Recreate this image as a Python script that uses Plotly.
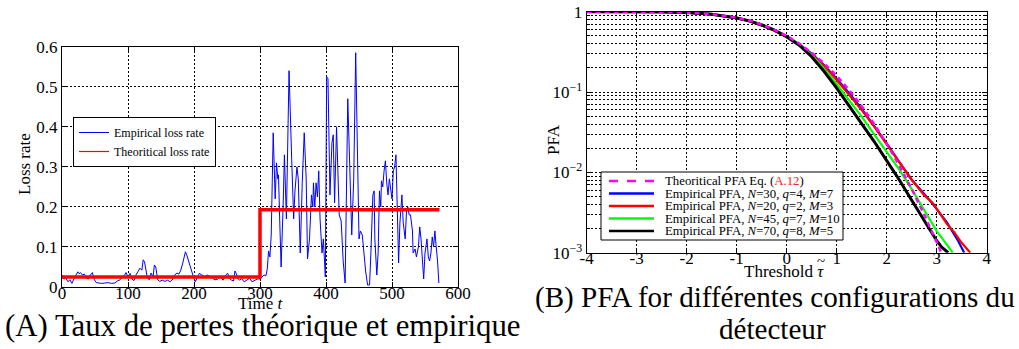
import plotly.graph_objects as go

W, H = 1019, 349
SERIF = "Liberation Serif, DejaVu Serif, Times New Roman, serif"

# ── Left panel: loss rate vs time ──────────────────────────────────────
t_loss = [
    0, 3, 6, 9, 12, 15, 18, 21, 24, 26,
    28, 31, 34, 37, 40, 43, 46, 49, 52, 56,
    60, 65, 70, 75, 80, 84, 88, 92, 95, 97,
    100, 103, 106, 109, 112, 115, 118, 121, 123, 125,
    127, 129, 132, 135, 138, 140, 142, 145, 148, 152,
    156, 160, 164, 168, 171, 174, 177, 180, 183, 185,
    187, 189, 191, 193, 195, 197, 199, 202, 205, 208,
    212, 216, 220, 224, 228, 232, 236, 240, 244, 248,
    251, 254, 257, 260, 262, 264, 266, 269, 272, 276,
    280, 284, 288, 292, 296, 300,
    303, 306, 309, 311, 313, 315, 317, 320, 323, 325,
    327, 328, 330, 332, 335, 337, 340, 344, 348, 351,
    353, 356, 358, 361, 364, 367, 370, 372, 375, 378,
    380, 381, 383, 385, 387, 389, 391, 394, 396, 399,
    401, 403, 406, 409, 411, 413, 416, 420, 423, 426,
    429, 433, 436, 439, 442, 445, 450, 452, 455, 458,
    460, 463, 466, 468, 471, 473, 474, 477, 479, 481,
    483, 484, 486, 488, 490, 492, 494, 496, 498, 500,
    502, 504, 506, 508, 510, 512, 515, 517, 520, 522,
    524, 526, 528, 531, 532, 535, 537, 540, 542, 544,
    546, 548, 550, 553, 555, 557, 559, 561, 563, 565,
    567, 569, 571,
]
emp_loss = [
    0.030, 0.020, 0.022, 0.013, 0.018, 0.009, 0.020, 0.030, 0.038, 0.033,
    0.036, 0.030, 0.032, 0.022, 0.020, 0.030, 0.036, 0.018, 0.011, 0.010,
    0.009, 0.010, 0.011, 0.009, 0.010, 0.015, 0.018, 0.026, 0.030, 0.036,
    0.025, 0.034, 0.020, 0.016, 0.030, 0.038, 0.047, 0.042, 0.068, 0.063,
    0.040, 0.026, 0.018, 0.035, 0.025, 0.055, 0.050, 0.018, 0.014, 0.017,
    0.014, 0.017, 0.013, 0.020, 0.030, 0.035, 0.032, 0.042, 0.060, 0.075,
    0.088, 0.080, 0.068, 0.060, 0.050, 0.035, 0.026, 0.013, 0.026, 0.034,
    0.030, 0.026, 0.030, 0.026, 0.022, 0.018, 0.020, 0.026, 0.017, 0.030,
    0.034, 0.021, 0.017, 0.015, 0.040, 0.034, 0.022, 0.017, 0.021, 0.013,
    0.017, 0.022, 0.013, 0.017, 0.020, 0.020,
    0.025, 0.030, 0.028, 0.045, 0.090, 0.075, 0.130, 0.385, 0.220, 0.310,
    0.270, 0.280, 0.160, 0.050, 0.200, 0.330, 0.170, 0.540, 0.320, 0.170,
    0.240, 0.300, 0.270, 0.085, 0.260, 0.385, 0.270, 0.070, 0.120, 0.230,
    0.200, 0.260, 0.200, 0.260, 0.225, 0.290, 0.170, 0.085, 0.120, 0.025,
    0.525, 0.520, 0.230, 0.360, 0.380, 0.210, 0.400, 0.180, 0.165, 0.065,
    0.010, 0.470, 0.300, 0.130, 0.270, 0.585, 0.120, 0.140, 0.130, 0.070,
    0.040, 0.005, 0.005, 0.085, 0.230, 0.240, 0.120, 0.030, 0.085, 0.240,
    0.200, 0.265, 0.250, 0.290, 0.315, 0.260, 0.230, 0.270, 0.250, 0.220,
    0.290, 0.300, 0.330, 0.150, 0.060, 0.160, 0.230, 0.160, 0.120, 0.190,
    0.200, 0.180, 0.180, 0.140, 0.085, 0.095, 0.075, 0.100, 0.150, 0.120,
    0.070, 0.020, 0.085, 0.120, 0.075, 0.065, 0.085, 0.125, 0.100, 0.140,
    0.100, 0.065, 0.010,
]
assert len(t_loss) == len(emp_loss)

t_step = [0, 300, 572]
theo_loss = [0.025, 0.193, 0.193]

# ── Right panel: PFA vs threshold ──────────────────────────────────────
thr_head = [-4, -3.5, -3, -2.5, -2, -1.5, -1, -0.75, -0.5, -0.25, 0]

thr_theo = thr_head + [0.25, 0.5, 0.75, 1, 1.25, 1.5, 1.75, 2, 2.25, 2.5, 2.75, 3, 3.1]
pfa_theo = [0.99997, 0.99977, 0.99865, 0.99379, 0.97725, 0.93319, 0.84134,
            0.77337, 0.69146, 0.59871, 0.5, 0.40129, 0.30854, 0.22663,
            0.15866, 0.10565, 0.06681, 0.04006, 0.02275, 0.01222, 0.00621,
            0.00298, 0.00135, 0.00097]

thr_blue = thr_head + [0.25, 0.5, 0.75, 1, 1.25, 1.5, 1.75, 2, 2.25, 2.5, 2.75, 2.9, 3.2, 3.43, 3.55]
pfa_blue = [1.0, 0.9998, 0.9986, 0.9935, 0.9765, 0.932, 0.84, 0.772, 0.69, 0.597, 0.497,
            0.394, 0.300, 0.216, 0.146, 0.0966, 0.0617, 0.038, 0.0229, 0.0135, 0.0081,
            0.0054, 0.0042, 0.0024, 0.0014, 0.001]

thr_red = thr_head + [0.25, 0.5, 0.75, 1, 1.25, 1.5, 1.75, 2, 2.25, 2.5, 2.75, 2.93, 3.2, 3.35, 3.47, 3.58, 3.67]
pfa_red = [1.0, 0.9997, 0.9983, 0.992, 0.973, 0.926, 0.828, 0.76, 0.675, 0.585, 0.485,
           0.389, 0.295, 0.211, 0.141, 0.093, 0.0596, 0.0372, 0.0224, 0.0135, 0.0081,
           0.0052, 0.0041, 0.0023, 0.0018, 0.0014, 0.00117, 0.001]

thr_green = thr_head + [0.25, 0.5, 0.75, 1, 1.25, 1.5, 1.75, 2, 2.25, 2.5, 2.75, 3, 3.1, 3.2, 3.32]
pfa_green = [1.0, 0.9998, 0.9986, 0.9937, 0.9765, 0.932, 0.838, 0.77, 0.686, 0.594, 0.492,
             0.389, 0.288, 0.195, 0.126, 0.080, 0.0495, 0.0297, 0.018, 0.0109, 0.0062,
             0.00342, 0.00186, 0.00154, 0.00126, 0.001]

thr_black = thr_head + [0.25, 0.5, 0.75, 1, 1.25, 1.5, 1.75, 2, 2.25, 2.5, 2.75, 3, 3.1, 3.23]
pfa_black = [1.0, 0.9998, 0.9985, 0.9935, 0.976, 0.931, 0.836, 0.768, 0.684, 0.59, 0.488,
             0.383, 0.275, 0.180, 0.112, 0.068, 0.041, 0.0242, 0.014, 0.0081, 0.0045,
             0.00254, 0.00141, 0.00117, 0.001]

legend_labels = [
    "Theoritical PFA Eq. (<span style='color:#ff2020'>A.12</span>)",
    "Empirical PFA, <i>N</i>=30, <i>q</i>=4, <i>M</i>=7",
    "Empirical PFA, <i>N</i>=20, <i>q</i>=2, <i>M</i>=3",
    "Empirical PFA, <i>N</i>=45, <i>q</i>=7, <i>M</i>=10",
    "Empirical PFA, <i>N</i>=70, <i>q</i>=8, <i>M</i>=5",
]
legend_colors = ["#FF00FF", "#0000FF", "#FF0000", "#00FF00", "#000000"]
legend_dash = ["dash", "solid", "solid", "solid", "solid"]


def px_x(p):
    return p / W


def px_y(p):
    return 1 - p / H


fig = go.Figure()

# left panel
fig.add_trace(go.Scatter(x=t_loss, y=emp_loss, mode="lines", name="Empirical loss rate",
                         line=dict(color="#0000FF", width=1), xaxis="x", yaxis="y"))
fig.add_trace(go.Scatter(x=t_step, y=theo_loss, mode="lines", line_shape="hv",
                         line=dict(color="#FF0000", width=3.5), showlegend=False,
                         xaxis="x", yaxis="y"))
fig.add_trace(go.Scatter(x=[None], y=[None], mode="lines", name="Theoritical loss rate",
                         line=dict(color="#FF0000", width=1.2), xaxis="x", yaxis="y"))

# right panel
for xs, ys, col, w in [
    (thr_blue, pfa_blue, "#0000FF", 2.2),
    (thr_red, pfa_red, "#FF0000", 2.2),
    (thr_green, pfa_green, "#00FF00", 2.2),
    (thr_black, pfa_black, "#000000", 3),
]:
    fig.add_trace(go.Scatter(x=xs, y=ys, mode="lines", line=dict(color=col, width=w),
                             showlegend=False, xaxis="x2", yaxis="y2"))
fig.add_trace(go.Scatter(x=thr_theo, y=pfa_theo, mode="lines",
                         line=dict(color="#FF00FF", width=2.5, dash="5px,4px"),
                         showlegend=False, xaxis="x2", yaxis="y2"))

axis_common = dict(
    showline=True, linecolor="black", linewidth=1.2, mirror="ticks",
    ticks="inside", ticklen=5, tickcolor="black",
    showgrid=True, gridcolor="black", gridwidth=1, griddash="2px,2px",
    zeroline=False, automargin=False,
    tickfont=dict(family=SERIF, size=17, color="black"),
)

fig.update_layout(
    width=W, height=H,
    margin=dict(l=0, r=0, t=0, b=0),
    paper_bgcolor="white", plot_bgcolor="white",
    font=dict(family=SERIF, color="black"),
    xaxis=dict(domain=[px_x(62), px_x(458)], range=[0, 600], dtick=100, anchor="y",
               ticklabelstandoff=-10, **axis_common),
    yaxis=dict(domain=[px_y(287), px_y(46.7)], range=[0, 0.6], dtick=0.1, anchor="x", **axis_common),
    xaxis2=dict(domain=[px_x(586.7), px_x(986.7)], range=[-4, 4],
                tickvals=[-4, -3, -2, -1, 0, 1, 2, 3, 4],
                ticktext=["-4", "-3", "-2", "-1", "0", "1", "2", "3", "4"],
                anchor="y2", ticklabelstandoff=-10, **axis_common),
    yaxis2=dict(domain=[px_y(252.7), px_y(11.7)], type="log", range=[-3, 0],
                tickvals=[0.001, 0.01, 0.1, 1],
                ticktext=["10<sup>−3</sup>", "10<sup>−2</sup>", "10<sup>−1</sup>", "1"],
                minor=dict(dtick="D1", showgrid=True, gridcolor="black", griddash="2px,2px",
                           ticks="inside", ticklen=3, tickcolor="black"),
                anchor="x2", **axis_common),
    legend=dict(x=px_x(73), y=px_y(117), xanchor="left", yanchor="top",
                bgcolor="white", bordercolor="black", borderwidth=1,
                font=dict(family=SERIF, size=12, color="black")),
)

shapes = [dict(type="rect", xref="paper", yref="paper",
               x0=px_x(601), x1=px_x(843), y0=px_y(240), y1=px_y(172),
               fillcolor="white", line=dict(color="black", width=1), layer="above")]
annotations = []
rows = [181, 193.5, 206, 218.5, 231]
for lab, col, dsh, py in zip(legend_labels, legend_colors, legend_dash, rows):
    shapes.append(dict(type="line", xref="paper", yref="paper",
                       x0=px_x(609), x1=px_x(654), y0=px_y(py), y1=px_y(py),
                       line=dict(color=col, width=2.5, dash=dsh), layer="above"))
    annotations.append(dict(text=lab, xref="paper", yref="paper", x=px_x(663), y=px_y(py),
                            xanchor="left", yanchor="middle", showarrow=False,
                            font=dict(family=SERIF, size=12.8, color="black")))

annotations += [
    dict(text="Loss rate", x=px_x(25), y=px_y(164), textangle=-90, font=dict(size=17)),
    dict(text="Time <i>t</i>", x=px_x(261), y=px_y(303), font=dict(size=17)),
    dict(text="PFA", x=px_x(553), y=px_y(140), textangle=-90, font=dict(size=17)),
    dict(text="Threshold <i>τ</i>", x=px_x(784), y=px_y(271), font=dict(size=17)),
    dict(text="~", x=px_x(821), y=px_y(261), font=dict(size=15)),
    dict(text="(A) Taux de pertes théorique et empirique", x=px_x(3), y=px_y(326),
         xanchor="left", font=dict(size=30.8)),
    dict(text="(B) PFA for différentes configurations du", x=px_x(533), y=px_y(297),
         xanchor="left", font=dict(size=29.1)),
    dict(text="détecteur", x=px_x(772), y=px_y(329), font=dict(size=29.1)),
]
for a in annotations[len(legend_labels):]:
    a.setdefault("xanchor", "center")
    a.update(xref="paper", yref="paper", showarrow=False, yanchor="middle")
    a["font"].update(family=SERIF, color="black")

fig.update_layout(shapes=shapes, annotations=annotations)
# the default page keeps an 8px body margin; drop it so the figure fills the window
fig.write_html("out.html", config={"displayModeBar": False},
               post_script="document.body.style.margin='0px';")
